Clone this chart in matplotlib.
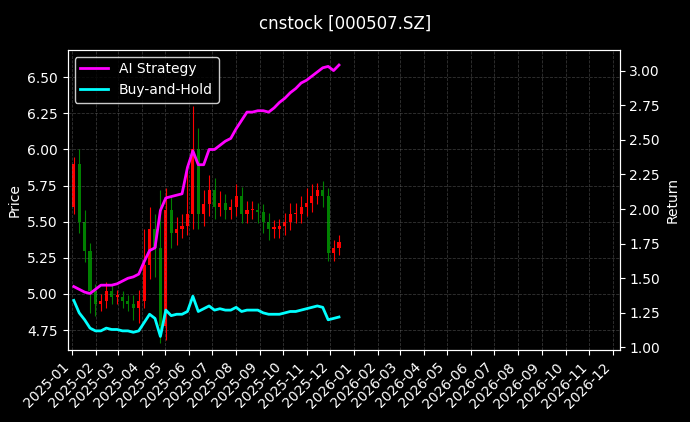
import matplotlib
matplotlib.use("Agg")
import matplotlib.pyplot as plt
import matplotlib.dates as mdates
import pandas as pd
import numpy as np

dates = pd.date_range("2025-01-03", periods=50, freq="7D")
close = [5.90,5.50,5.30,5.02,4.93,4.95,5.02,4.98,4.98,4.95,4.93,4.90,4.95,5.20,5.45,5.32,4.78,5.58,5.42,5.45,
         5.47,5.55,6.00,5.55,5.62,5.72,5.60,5.63,5.58,5.60,5.68,5.55,5.58,5.58,5.57,5.50,5.45,5.45,5.47,5.50,
         5.55,5.55,5.60,5.63,5.68,5.72,5.68,5.28,5.32,5.36]
first_open = 5.60
hwick = [0.05,0.10,0.08,0.05,0.05,0.05,0.06,0.05,0.05,0.04,0.04,0.06,0.08,0.25,0.15,0.10,0.40,0.15,0.10,0.08,
         0.08,0.30,0.30,0.15,0.10,0.10,0.08,0.08,0.06,0.06,0.08,0.06,0.06,0.06,0.05,0.05,0.06,0.06,0.05,0.06,
         0.08,0.08,0.08,0.10,0.08,0.05,0.06,0.05,0.05,0.05]
lwick = [0.05,0.08,0.08,0.15,0.08,0.05,0.05,0.05,0.05,0.05,0.05,0.08,0.10,0.05,0.10,0.20,0.12,0.10,0.10,0.08,
         0.06,0.06,0.10,0.10,0.08,0.08,0.08,0.06,0.06,0.06,0.06,0.06,0.06,0.06,0.08,0.08,0.08,0.06,0.06,0.06,
         0.06,0.06,0.06,0.06,0.06,0.06,0.08,0.05,0.05,0.05]
strategy = [1.44,1.42,1.40,1.39,1.42,1.45,1.45,1.45,1.46,1.48,1.50,1.51,1.53,1.62,1.70,1.72,1.99,2.08,2.09,2.10,
            2.11,2.30,2.42,2.32,2.32,2.43,2.43,2.46,2.49,2.51,2.58,2.64,2.70,2.70,2.71,2.71,2.70,2.73,2.77,2.80,
            2.84,2.87,2.91,2.93,2.96,2.99,3.02,3.03,3.00,3.04]
buyhold = [1.34,1.25,1.20,1.14,1.12,1.12,1.14,1.13,1.13,1.12,1.12,1.11,1.12,1.18,1.24,1.21,1.08,1.27,1.23,1.24,
           1.24,1.26,1.37,1.26,1.28,1.30,1.27,1.28,1.27,1.27,1.29,1.26,1.27,1.27,1.27,1.25,1.24,1.24,1.24,1.25,
           1.26,1.26,1.27,1.28,1.29,1.30,1.29,1.20,1.21,1.22]

opens = [first_open] + close[:-1]

plt.style.use("dark_background")
fig, ax = plt.subplots(figsize=(6.9, 4.22), dpi=100)
fig.subplots_adjust(left=0.098, right=0.898, top=0.882, bottom=0.17)
fig.suptitle("cnstock [000507.SZ]", color="white", fontsize=12, y=0.965)

for d, o, c, hw, lw in zip(dates, opens, close, hwick, lwick):
    col = "red" if c >= o else "green"
    hi = max(o, c) + hw
    lo = min(o, c) - lw
    ax.vlines(d, lo, hi, color=col, linewidth=0.8)
    ax.bar(d, abs(c - o) if abs(c - o) > 0.005 else 0.01, bottom=min(o, c), width=4, color=col)

ax.set_ylim(4.61, 6.69)
ax.set_ylabel("Price", color="white")
ax.set_xlim(pd.Timestamp("2024-12-26"), pd.Timestamp("2026-12-10"))
ax.xaxis.set_major_locator(mdates.MonthLocator())
ax.xaxis.set_major_formatter(mdates.DateFormatter("%Y-%m"))
plt.setp(ax.get_xticklabels(), rotation=45, ha="right")
ax.grid(True, linestyle="--", color="gray", alpha=0.4, linewidth=0.6)

ax2 = ax.twinx()
l1, = ax2.plot(dates, strategy, color="magenta", linewidth=2, label="AI Strategy")
l2, = ax2.plot(dates, buyhold, color="cyan", linewidth=2, label="Buy-and-Hold")
ax2.set_ylim(0.98, 3.15)
ax2.set_ylabel("Return", color="white")
leg = ax2.legend(handles=[l1, l2], loc="upper left", facecolor="black", edgecolor="white")

fig.savefig("out.png", dpi=100, facecolor="black")
